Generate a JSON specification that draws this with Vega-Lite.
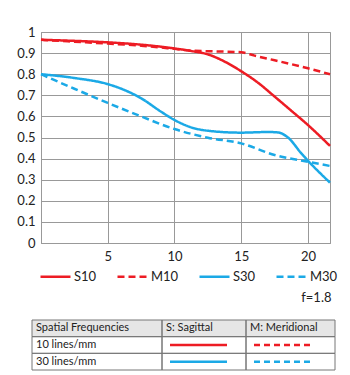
{
  "$schema": "https://vega.github.io/schema/vega-lite/v6.json",
  "padding": {"left": 16, "top": 25, "right": 0, "bottom": 0},
  "background": "white",
  "config": {
    "font": "Lato",
    "view": {"stroke": "#999", "strokeWidth": 1},
    "axis": {"labelColor": "#222", "labelFont": "Lato", "labelFontSize": 13, "gridColor": "#999", "gridWidth": 1, "gridOpacity": 1, "domainColor": "#999", "ticks": false, "title": null}
  },
  "datasets": {
    "curves": [
      {"series": "S10", "x": 0, "y": 0.963},
      {"series": "S10", "x": 2.5, "y": 0.958},
      {"series": "S10", "x": 5, "y": 0.951},
      {"series": "S10", "x": 7.5, "y": 0.94},
      {"series": "S10", "x": 10, "y": 0.922},
      {"series": "S10", "x": 11.25, "y": 0.91},
      {"series": "S10", "x": 12.5, "y": 0.894},
      {"series": "S10", "x": 13.75, "y": 0.86},
      {"series": "S10", "x": 15, "y": 0.814},
      {"series": "S10", "x": 16.25, "y": 0.76},
      {"series": "S10", "x": 17.5, "y": 0.694},
      {"series": "S10", "x": 18.75, "y": 0.627},
      {"series": "S10", "x": 20, "y": 0.559},
      {"series": "S10", "x": 21.65, "y": 0.46},
      {"series": "M10", "x": 0, "y": 0.963},
      {"series": "M10", "x": 2.5, "y": 0.954},
      {"series": "M10", "x": 5, "y": 0.945},
      {"series": "M10", "x": 7.5, "y": 0.935},
      {"series": "M10", "x": 10, "y": 0.92},
      {"series": "M10", "x": 11.25, "y": 0.912},
      {"series": "M10", "x": 12.5, "y": 0.909},
      {"series": "M10", "x": 15, "y": 0.904},
      {"series": "M10", "x": 16, "y": 0.888},
      {"series": "M10", "x": 17.5, "y": 0.866},
      {"series": "M10", "x": 20, "y": 0.828},
      {"series": "M10", "x": 21.65, "y": 0.8},
      {"series": "S30", "x": 0, "y": 0.8},
      {"series": "S30", "x": 2.5, "y": 0.782},
      {"series": "S30", "x": 5, "y": 0.753},
      {"series": "S30", "x": 6.25, "y": 0.725},
      {"series": "S30", "x": 7.5, "y": 0.686},
      {"series": "S30", "x": 9, "y": 0.622},
      {"series": "S30", "x": 10, "y": 0.583},
      {"series": "S30", "x": 11.25, "y": 0.548},
      {"series": "S30", "x": 12.5, "y": 0.532},
      {"series": "S30", "x": 15, "y": 0.523},
      {"series": "S30", "x": 17, "y": 0.526},
      {"series": "S30", "x": 17.75, "y": 0.524},
      {"series": "S30", "x": 18.5, "y": 0.5},
      {"series": "S30", "x": 19.5, "y": 0.425},
      {"series": "S30", "x": 20, "y": 0.39},
      {"series": "S30", "x": 21.65, "y": 0.286},
      {"series": "M30", "x": 0, "y": 0.8},
      {"series": "M30", "x": 2.5, "y": 0.731},
      {"series": "M30", "x": 5, "y": 0.664},
      {"series": "M30", "x": 7.5, "y": 0.6},
      {"series": "M30", "x": 10, "y": 0.54},
      {"series": "M30", "x": 12.5, "y": 0.499},
      {"series": "M30", "x": 15, "y": 0.472},
      {"series": "M30", "x": 17.5, "y": 0.417},
      {"series": "M30", "x": 20, "y": 0.385},
      {"series": "M30", "x": 21.65, "y": 0.365}
    ],
    "cells": [
      {"c0": 0, "c1": 130, "r0": 0, "r1": 1},
      {"c0": 130, "c1": 214, "r0": 0, "r1": 1},
      {"c0": 214, "c1": 303, "r0": 0, "r1": 1},
      {"c0": 0, "c1": 130, "r0": 1, "r1": 2},
      {"c0": 130, "c1": 214, "r0": 1, "r1": 2},
      {"c0": 214, "c1": 303, "r0": 1, "r1": 2},
      {"c0": 0, "c1": 130, "r0": 2, "r1": 3},
      {"c0": 130, "c1": 214, "r0": 2, "r1": 3},
      {"c0": 214, "c1": 303, "r0": 2, "r1": 3}
    ],
    "texts": [
      {"c0": 0, "r": 0.5, "label": "Spatial Frequencies"},
      {"c0": 130, "r": 0.5, "label": "S: Sagittal"},
      {"c0": 214, "r": 0.5, "label": "M: Meridional"},
      {"c0": 0, "r": 1.5, "label": "10 lines/mm"},
      {"c0": 0, "r": 2.5, "label": "30 lines/mm"}
    ],
    "samples": [
      {"series": "S10", "s": 138, "e": 195, "r": 1.5},
      {"series": "M10", "s": 222, "e": 280, "r": 1.5},
      {"series": "S30", "s": 138, "e": 195, "r": 2.5},
      {"series": "M30", "s": 222, "e": 280, "r": 2.5}
    ]
  },
  "vconcat": [
    {
      "width": 289,
      "height": 211,
      "data": {"name": "curves"},
      "mark": {"type": "line", "interpolate": "monotone", "strokeWidth": 2.5},
      "encoding": {
        "x": {"field": "x", "type": "quantitative", "scale": {"domain": [0, 21.65], "nice": false, "zero": false}, "axis": {"values": [5, 10, 15, 20], "labelPadding": 7, "grid": true}},
        "y": {"field": "y", "type": "quantitative", "scale": {"domain": [0, 1], "nice": false}, "axis": {"values": [0, 0.1, 0.2, 0.3, 0.4, 0.5, 0.6, 0.7, 0.8, 0.9, 1], "format": "~g", "labelPadding": 6, "grid": true}},
        "color": {"field": "series", "type": "nominal", "scale": {"domain": ["S10", "M10", "S30", "M30"], "range": ["#ed1c24", "#ed1c24", "#1ba9e6", "#1ba9e6"]},
          "legend": {"title": null, "orient": "none", "legendX": -2, "legendY": 228, "direction": "horizontal", "symbolType": "stroke", "symbolSize": 900, "symbolStrokeWidth": 2.5, "labelFontSize": 13, "labelColor": "#222", "labelOffset": 2, "columnPadding": 15}},
        "strokeDash": {"field": "series", "type": "nominal", "scale": {"domain": ["S10", "M10", "S30", "M30"], "range": [[1, 0], [7, 4], [1, 0], [7, 4]]},
          "legend": {"title": null, "orient": "none", "legendX": -2, "legendY": 228, "direction": "horizontal", "symbolType": "stroke", "symbolSize": 900, "symbolStrokeWidth": 2.5, "labelFontSize": 13, "labelColor": "#222", "labelOffset": 2, "columnPadding": 15}}
      }
    },
    {
      "width": 289,
      "height": 50,
      "view": {"stroke": null},
      "title": {"text": "f=1.8", "anchor": "end", "fontSize": 13, "fontWeight": "normal", "color": "#222", "offset": 15, "dx": -4},
      "layer": [
        {
          "data": {"name": "cells"},
          "transform": [{"filter": "datum.r0 == 0"}],
          "mark": {"type": "rect", "fill": "#e6e6e6"},
          "encoding": {
            "x": {"field": "c0", "type": "quantitative", "scale": {"domain": [0, 303], "range": [-9, 294], "nice": false, "zero": false}, "axis": null},
            "x2": {"field": "c1"},
            "y": {"field": "r0", "type": "quantitative", "scale": {"domain": [0, 3], "range": [0, 50], "nice": false}, "axis": null},
            "y2": {"field": "r1"}
          }
        },
        {
          "data": {"name": "cells"},
          "mark": {"type": "rect", "fillOpacity": 0, "stroke": "#777", "strokeWidth": 1},
          "encoding": {
            "x": {"field": "c0", "type": "quantitative", "axis": null},
            "x2": {"field": "c1"},
            "y": {"field": "r0", "type": "quantitative", "axis": null},
            "y2": {"field": "r1"}
          }
        },
        {
          "data": {"name": "texts"},
          "mark": {"type": "text", "align": "left", "baseline": "middle", "dx": 4, "fontSize": 11, "color": "#222"},
          "encoding": {
            "x": {"field": "c0", "type": "quantitative", "axis": null},
            "y": {"field": "r", "type": "quantitative", "axis": null},
            "text": {"field": "label"}
          }
        },
        {
          "data": {"name": "samples"},
          "mark": {"type": "rule", "strokeWidth": 2.5},
          "encoding": {
            "x": {"field": "s", "type": "quantitative", "axis": null},
            "x2": {"field": "e"},
            "y": {"field": "r", "type": "quantitative", "axis": null},
            "color": {"field": "series", "type": "nominal", "scale": {"domain": ["S10", "M10", "S30", "M30"], "range": ["#ed1c24", "#ed1c24", "#1ba9e6", "#1ba9e6"]}, "legend": null},
            "strokeDash": {"field": "series", "type": "nominal", "scale": {"domain": ["S10", "M10", "S30", "M30"], "range": [[1, 0], [6, 4], [1, 0], [6, 4]]}, "legend": null}
          }
        }
      ]
    }
  ],
  "spacing": 77,
  "bounds": "flush",
  "resolve": {"scale": {"x": "independent", "y": "independent", "color": "independent", "strokeDash": "independent"}}
}
